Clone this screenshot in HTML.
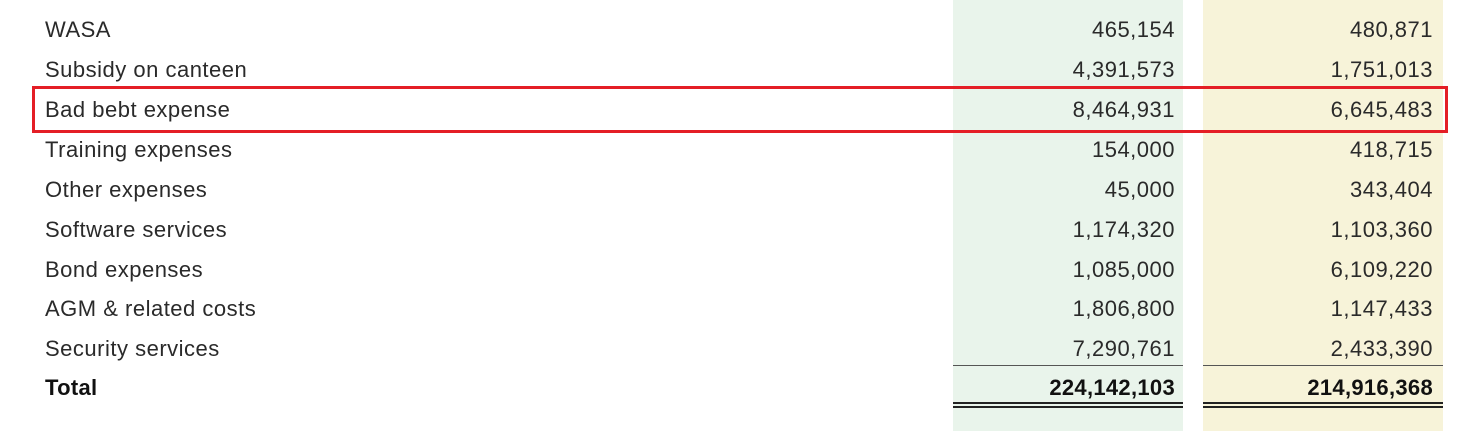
<!DOCTYPE html>
<html><head><style>
body{margin:0;width:1477px;height:431px;background:#fff;position:relative;overflow:hidden;font-family:"Liberation Sans",sans-serif;color:#2a2a2a}
.col{position:absolute;top:0;height:431px}
.t{position:absolute;font-size:22px;line-height:24px;white-space:nowrap;letter-spacing:0.5px}
.l{left:45px}
.a{right:302px;text-align:right}
.b{right:44px;text-align:right}
.bold{font-weight:bold;color:#111;letter-spacing:0.3px}
.ln{position:absolute;height:2px;background:#555}
</style></head><body>
<div class="col" style="left:953px;width:230px;background:#e9f4eb"></div>
<div class="col" style="left:1203px;width:240px;background:#f7f3d9"></div>
<div style="position:absolute;left:32px;top:86px;width:1410px;height:41px;border:3px solid #e41e26"></div>
<div class="t l" style="top:18px">WASA</div><div class="t a" style="top:18px">465,154</div><div class="t b" style="top:18px">480,871</div>
<div class="t l" style="top:58px">Subsidy on canteen</div><div class="t a" style="top:58px">4,391,573</div><div class="t b" style="top:58px">1,751,013</div>
<div class="t l" style="top:98px">Bad bebt expense</div><div class="t a" style="top:98px">8,464,931</div><div class="t b" style="top:98px">6,645,483</div>
<div class="t l" style="top:138px">Training expenses</div><div class="t a" style="top:138px">154,000</div><div class="t b" style="top:138px">418,715</div>
<div class="t l" style="top:178px">Other expenses</div><div class="t a" style="top:178px">45,000</div><div class="t b" style="top:178px">343,404</div>
<div class="t l" style="top:218px">Software services</div><div class="t a" style="top:218px">1,174,320</div><div class="t b" style="top:218px">1,103,360</div>
<div class="t l" style="top:258px">Bond expenses</div><div class="t a" style="top:258px">1,085,000</div><div class="t b" style="top:258px">6,109,220</div>
<div class="t l" style="top:297px">AGM &amp; related costs</div><div class="t a" style="top:297px">1,806,800</div><div class="t b" style="top:297px">1,147,433</div>
<div class="t l" style="top:337px">Security services</div><div class="t a" style="top:337px">7,290,761</div><div class="t b" style="top:337px">2,433,390</div>
<div class="ln" style="left:953px;width:230px;top:365px;height:1px"></div>
<div class="ln" style="left:1203px;width:240px;top:365px;height:1px"></div>
<div class="t l bold" style="top:376px">Total</div><div class="t a bold" style="top:376px">224,142,103</div><div class="t b bold" style="top:376px">214,916,368</div>
<div class="ln" style="left:953px;width:230px;top:402px;background:#222"></div>
<div class="ln" style="left:953px;width:230px;top:406px;background:#222"></div>
<div class="ln" style="left:1203px;width:240px;top:402px;background:#222"></div>
<div class="ln" style="left:1203px;width:240px;top:406px;background:#222"></div>
</body></html>
